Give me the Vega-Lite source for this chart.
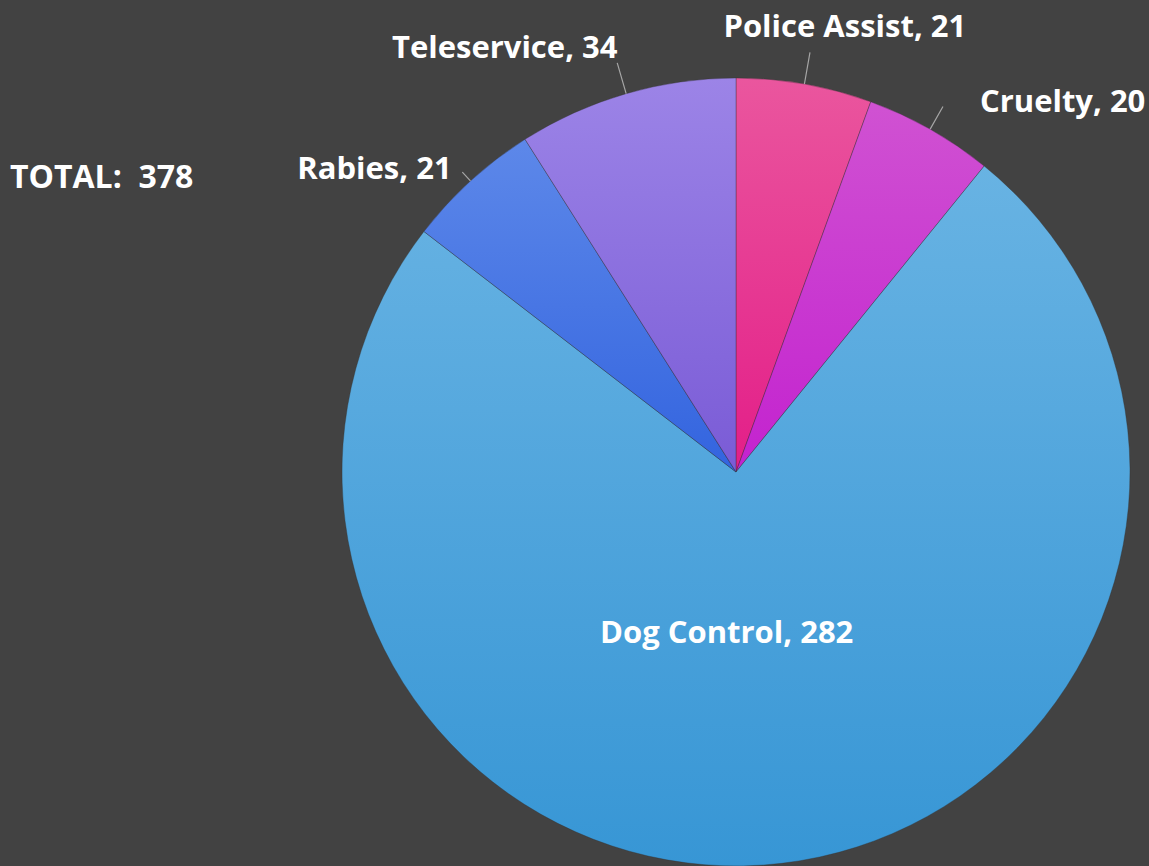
{
  "$schema": "https://vega.github.io/schema/vega-lite/v6.json",
  "width": 788,
  "height": 788,
  "autosize": {"type": "none"},
  "padding": {"left": 342, "top": 78, "right": 19, "bottom": 0},
  "background": "#424242",
  "config": {"view": {"stroke": null}, "font": "Open Sans"},
  "title": {
    "text": "TOTAL:\u00a0 378",
    "anchor": "start",
    "frame": "group",
    "orient": "top",
    "offset": 0,
    "dx": -332,
    "dy": 198,
    "baseline": "middle",
    "font": "Open Sans",
    "fontSize": 32,
    "fontWeight": "bold",
    "color": "#ffffff"
  },
  "data": {
    "values": [
      {"category": "Police Assist", "value": 21, "order": 1},
      {"category": "Cruelty", "value": 20, "order": 2},
      {"category": "Dog Control", "value": 282, "order": 3},
      {"category": "Rabies", "value": 21, "order": 4},
      {"category": "Teleservice", "value": 34, "order": 5}
    ]
  },
  "transform": [
    {"stack": "value", "groupby": [], "sort": [{"field": "order", "order": "ascending"}], "as": ["v0", "v1"]},
    {"calculate": "(datum.v0 + datum.v1) / 2", "as": "mid"},
    {"calculate": "datum.category + ', ' + datum.value", "as": "label"}
  ],
  "layer": [
    {
      "mark": {"type": "arc", "stroke": "#303030", "strokeWidth": 0.6, "strokeOpacity": 0.6},
      "encoding": {
        "theta": {"field": "v0", "type": "quantitative", "scale": {"domain": [0, 378]}},
        "theta2": {"field": "v1"},
        "fill": {
          "condition": [
            {"test": "datum.category === 'Police Assist'", "value": {"gradient": "linear", "x1": 0, "y1": 0, "x2": 0, "y2": 1, "stops": [{"offset": 0, "color": "#ea569e"}, {"offset": 1, "color": "#e31e88"}]}},
            {"test": "datum.category === 'Cruelty'", "value": {"gradient": "linear", "x1": 0, "y1": 0, "x2": 0, "y2": 1, "stops": [{"offset": 0, "color": "#d052d2"}, {"offset": 1, "color": "#c322cf"}]}},
            {"test": "datum.category === 'Dog Control'", "value": {"gradient": "linear", "x1": 0, "y1": 0, "x2": 0, "y2": 1, "stops": [{"offset": 0, "color": "#68b3e3"}, {"offset": 1, "color": "#3796d5"}]}},
            {"test": "datum.category === 'Rabies'", "value": {"gradient": "linear", "x1": 0, "y1": 0, "x2": 0, "y2": 1, "stops": [{"offset": 0, "color": "#5d88e9"}, {"offset": 1, "color": "#3364df"}]}}
          ],
          "value": {"gradient": "linear", "x1": 0, "y1": 0, "x2": 0, "y2": 1, "stops": [{"offset": 0, "color": "#9c84e7"}, {"offset": 1, "color": "#7a5bd6"}]}
        }
      }
    },
    {
      "transform": [{"filter": "datum.category === 'Dog Control'"}],
      "mark": {"type": "text", "color": "#ffffff", "fontSize": 31, "fontWeight": "bold", "align": "center", "baseline": "middle", "dx": -28, "dy": 2},
      "encoding": {
        "theta": {"field": "mid", "type": "quantitative"},
        "radius": {"value": 161},
        "text": {"field": "label"}
      }
    },
    {
      "transform": [{"filter": "datum.category === 'Police Assist'"}],
      "layer": [
        {
          "mark": {"type": "arc", "fill": null, "stroke": "#a6a6a6", "strokeWidth": 1.2},
          "encoding": {
            "theta": {"field": "mid", "type": "quantitative"},
            "theta2": {"field": "mid"},
            "radius": {"value": 426},
            "radius2": {"value": 394}
          }
        },
        {
          "mark": {"type": "text", "color": "#ffffff", "fontSize": 31, "fontWeight": "bold", "align": "center", "baseline": "middle", "dx": 30, "dy": 3},
          "encoding": {
            "theta": {"field": "mid", "type": "quantitative"},
            "radius": {"value": 454},
            "text": {"field": "label"}
          }
        }
      ]
    },
    {
      "transform": [{"filter": "datum.category === 'Cruelty'"}],
      "layer": [
        {
          "mark": {"type": "arc", "fill": null, "stroke": "#a6a6a6", "strokeWidth": 1.2},
          "encoding": {
            "theta": {"field": "mid", "type": "quantitative"},
            "theta2": {"field": "mid"},
            "radius": {"value": 420},
            "radius2": {"value": 394}
          }
        },
        {
          "mark": {"type": "text", "color": "#ffffff", "fontSize": 31, "fontWeight": "bold", "align": "left", "baseline": "middle", "dx": 34, "dy": 2},
          "encoding": {
            "theta": {"field": "mid", "type": "quantitative"},
            "radius": {"value": 426},
            "text": {"field": "label"}
          }
        }
      ]
    },
    {
      "transform": [{"filter": "datum.category === 'Rabies'"}],
      "layer": [
        {
          "mark": {"type": "arc", "fill": null, "stroke": "#a6a6a6", "strokeWidth": 1.2},
          "encoding": {
            "theta": {"field": "mid", "type": "quantitative"},
            "theta2": {"field": "mid"},
            "radius": {"value": 406},
            "radius2": {"value": 394}
          }
        },
        {
          "mark": {"type": "text", "color": "#ffffff", "fontSize": 31, "fontWeight": "bold", "align": "right", "baseline": "middle", "dx": -6, "dy": 3},
          "encoding": {
            "theta": {"field": "mid", "type": "quantitative"},
            "radius": {"value": 413},
            "text": {"field": "label"}
          }
        }
      ]
    },
    {
      "transform": [{"filter": "datum.category === 'Teleservice'"}],
      "layer": [
        {
          "mark": {"type": "arc", "fill": null, "stroke": "#a6a6a6", "strokeWidth": 1.2},
          "encoding": {
            "theta": {"field": "mid", "type": "quantitative"},
            "theta2": {"field": "mid"},
            "radius": {"value": 426},
            "radius2": {"value": 394}
          }
        },
        {
          "mark": {"type": "text", "color": "#ffffff", "fontSize": 31, "fontWeight": "bold", "align": "right", "baseline": "middle", "dx": 5, "dy": 2},
          "encoding": {
            "theta": {"field": "mid", "type": "quantitative"},
            "radius": {"value": 443},
            "text": {"field": "label"}
          }
        }
      ]
    }
  ]
}
